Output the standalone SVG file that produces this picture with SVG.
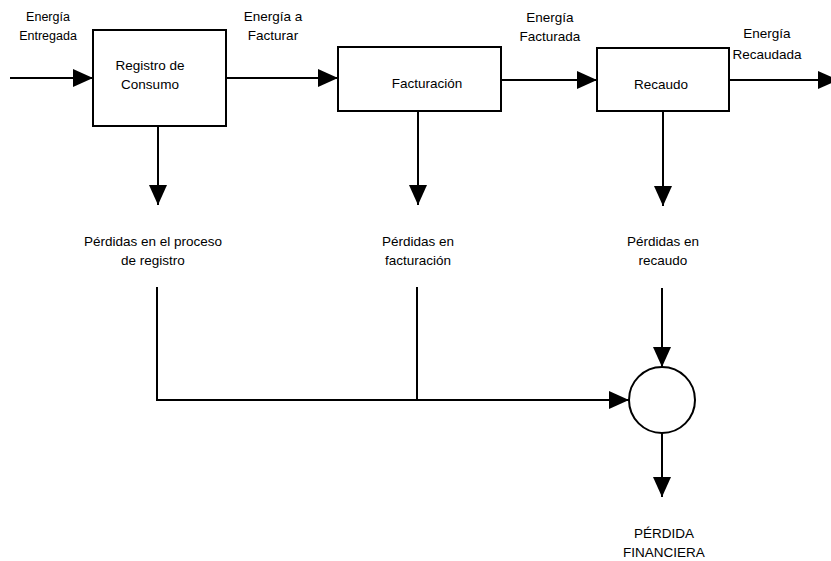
<svg xmlns="http://www.w3.org/2000/svg" width="831" height="561" viewBox="0 0 831 561">
<defs>
<marker id="ah" viewBox="0 0 20 18" refX="20" refY="9" markerWidth="20" markerHeight="18" markerUnits="userSpaceOnUse" orient="auto"><path d="M0,0 L20,9 L0,18 Z" fill="#000"/></marker>
<style>
.box{fill:#fff;stroke:#000;stroke-width:2}
.c{fill:none;stroke:#000;stroke-width:2}
.a{marker-end:url(#ah)}
text{font-family:"Liberation Sans",Arial,sans-serif;font-size:13.5px;fill:#000;text-anchor:middle}
.sm{font-size:12.5px}
</style>
</defs>
<rect width="831" height="561" fill="#fff"/>
<g id="connectors">
<path class="c a" d="M10,78 H93"/>
<path class="c a" d="M226,78 H338"/>
<path class="c a" d="M501,80 H597"/>
<path class="c a" d="M729,80 H838"/>
<path class="c a" d="M158,126 V205"/>
<path class="c a" d="M418,111 V205"/>
<path class="c a" d="M663,111 V206"/>
<path class="c a" d="M157,287 V400 H629"/>
<path class="c" d="M417,287 V400"/>
<path class="c a" d="M662,288 V367"/>
<path class="c a" d="M662,433 V497"/>
</g>
<g id="lbl-entregada"><text class="sm" x="48" y="21">Energía</text><text class="sm" x="48" y="40">Entregada</text></g>
<g id="lbl-afacturar"><text x="273" y="21">Energía a</text><text x="273" y="40">Facturar</text></g>
<g id="lbl-facturada"><text x="550" y="22">Energía</text><text x="550" y="41">Facturada</text></g>
<g id="lbl-recaudada"><text x="767" y="38">Energía</text><text x="767" y="59">Recaudada</text></g>
<g id="registro"><rect class="box" x="93" y="30" width="133" height="96"/><text x="150" y="70">Registro de</text><text x="150" y="89">Consumo</text></g>
<g id="facturacion"><rect class="box" x="338" y="47" width="163" height="64"/><text x="427" y="88">Facturación</text></g>
<g id="recaudo"><rect class="box" x="597" y="48" width="132" height="63"/><text x="661" y="89">Recaudo</text></g>
<g id="perd-registro"><text x="153" y="246">Pérdidas en el proceso</text><text x="153" y="265">de registro</text></g>
<g id="perd-facturacion"><text x="418" y="246">Pérdidas en</text><text x="418" y="265">facturación</text></g>
<g id="perd-recaudo"><text x="663" y="246">Pérdidas en</text><text x="663" y="265">recaudo</text></g>
<g id="suma"><circle cx="662" cy="400" r="33" fill="#fff" stroke="#000" stroke-width="2"/></g>
<g id="perdida-financiera"><text x="664" y="538">PÉRDIDA</text><text x="664" y="557">FINANCIERA</text></g>
</svg>
